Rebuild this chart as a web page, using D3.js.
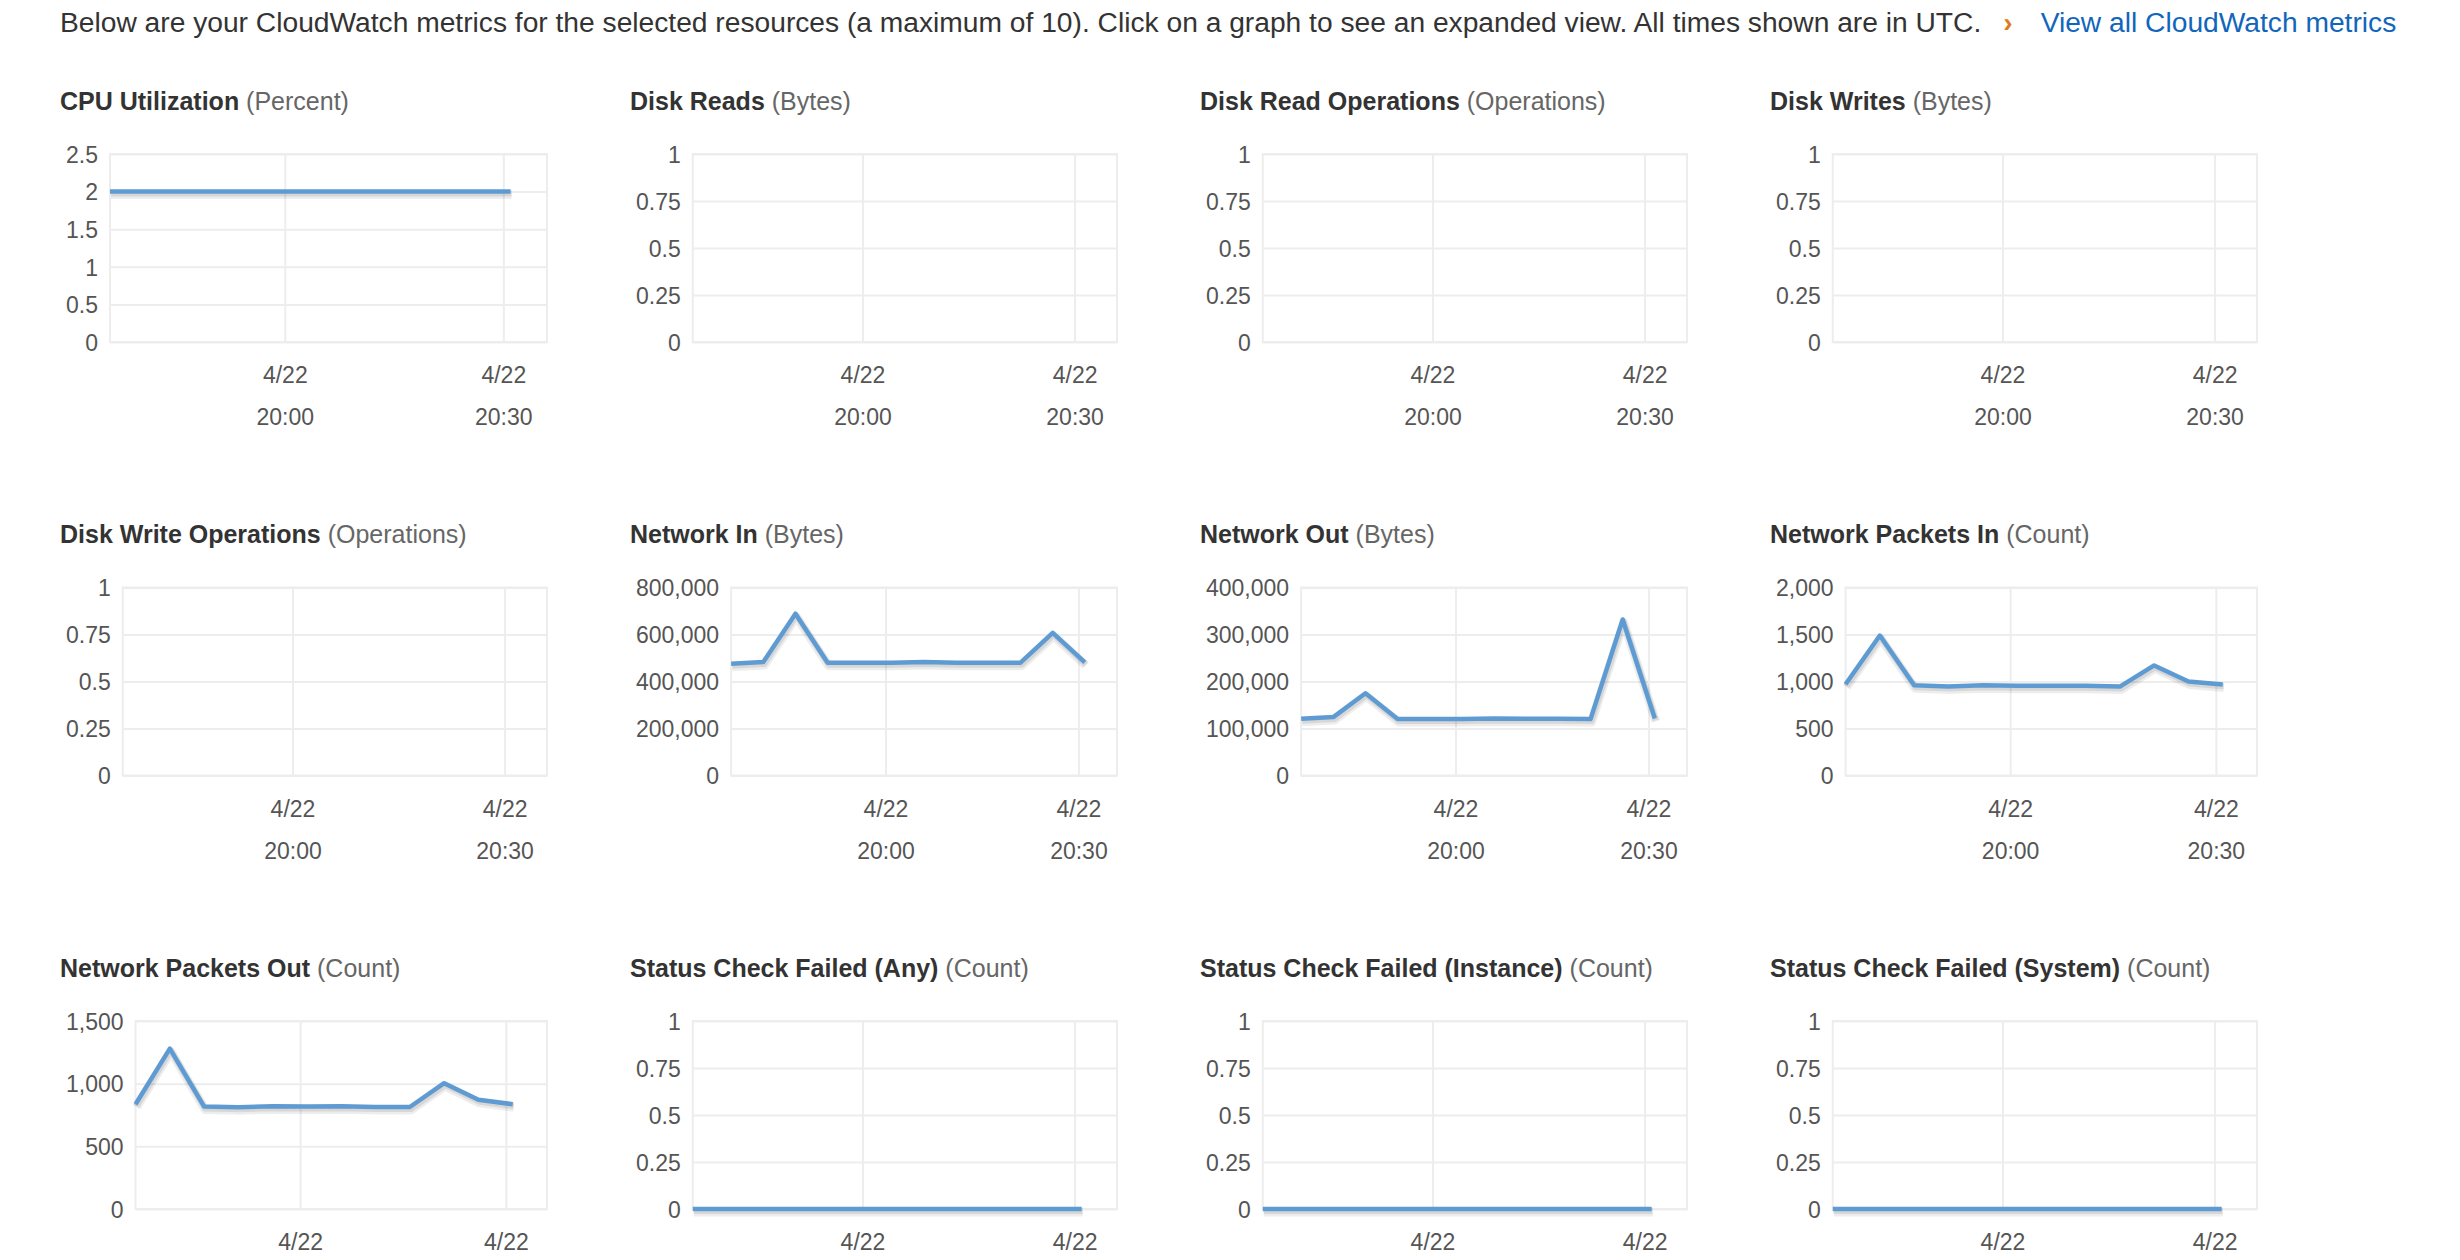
<!DOCTYPE html>
<html>
<head>
<meta charset="utf-8">
<script src="https://cdn.jsdelivr.net/npm/d3@7"></script>
<style>
  html, body { margin: 0; padding: 0; background: #fff; overflow: hidden; }
  svg { display: block; font-family: "Liberation Sans", Arial, Helvetica, sans-serif; }
</style>
</head>
<body>
<svg id="chart" width="2460" height="1260"></svg>
<script>
// sample times (UTC, 4/22), 5 minute period
const sampleTimes = ['19:36', '19:41', '19:46', '19:51', '19:56', '20:01', '20:06', '20:11', '20:16', '20:21', '20:26', '20:31'];
const timeRange = ['19:36', '20:36'];

// series values
const cpuUtilization = [2, 2, 2, 2, 2, 2, 2, 2, 2, 2, 2, 2];
const diskReads = [];
const diskReadOps = [];
const diskWrites = [];
const diskWriteOps = [];
const networkIn = [475700, 482900, 688600, 480000, 480000, 480000, 483000, 480000, 480000, 480000, 607000, 481000];
const networkOut = [120700, 124300, 175000, 120000, 120000, 120000, 121400, 120700, 120700, 120000, 332000, 121400];
const packetsIn = [971, 1489, 961, 946, 961, 954, 954, 954, 946, 1171, 1000, 968];
const packetsOut = [836, 1280, 817, 812, 820, 817, 820, 814, 814, 1004, 871, 836];
const statusAny = [0, 0, 0, 0, 0, 0, 0, 0, 0, 0, 0, 0];
const statusInstance = [0, 0, 0, 0, 0, 0, 0, 0, 0, 0, 0, 0];
const statusSystem = [0, 0, 0, 0, 0, 0, 0, 0, 0, 0, 0, 0];

// y tick labels
const ticksCpu = [0, 0.5, 1, 1.5, 2, 2.5];
const ticksUnit = [0, 0.25, 0.5, 0.75, 1];
const ticksNetIn = [0, 200000, 400000, 600000, 800000];
const ticksNetOut = [0, 100000, 200000, 300000, 400000];
const ticksPktIn = [0, 500, 1000, 1500, 2000];
const ticksPktOut = [0, 500, 1000, 1500];

const metrics = [
  { name: 'CPU Utilization', unit: 'Percent', values: cpuUtilization, ticks: ticksCpu },
  { name: 'Disk Reads', unit: 'Bytes', values: diskReads, ticks: ticksUnit },
  { name: 'Disk Read Operations', unit: 'Operations', values: diskReadOps, ticks: ticksUnit },
  { name: 'Disk Writes', unit: 'Bytes', values: diskWrites, ticks: ticksUnit },
  { name: 'Disk Write Operations', unit: 'Operations', values: diskWriteOps, ticks: ticksUnit },
  { name: 'Network In', unit: 'Bytes', values: networkIn, ticks: ticksNetIn },
  { name: 'Network Out', unit: 'Bytes', values: networkOut, ticks: ticksNetOut },
  { name: 'Network Packets In', unit: 'Count', values: packetsIn, ticks: ticksPktIn },
  { name: 'Network Packets Out', unit: 'Count', values: packetsOut, ticks: ticksPktOut },
  { name: 'Status Check Failed (Any)', unit: 'Count', values: statusAny, ticks: ticksUnit },
  { name: 'Status Check Failed (Instance)', unit: 'Count', values: statusInstance, ticks: ticksUnit },
  { name: 'Status Check Failed (System)', unit: 'Count', values: statusSystem, ticks: ticksUnit }
];

const parseTime = (t) => d3.utcParse('%Y-%m-%d %H:%M')('2019-04-22 ' + t);
const times = sampleTimes.map(parseTime);

const svg = d3.select('#chart');

// header line
const header = svg.append('text')
  .attr('x', 60)
  .attr('y', 32)
  .style('font-size', '28.2px');
header.append('tspan')
  .attr('fill', '#333')
  .text('Below are your CloudWatch metrics for the selected resources (a maximum of 10). Click on a graph to see an expanded view. All times shown are in UTC.');
header.append('tspan')
  .attr('dx', 22)
  .attr('fill', '#e07b1a')
  .style('font-weight', 'bold')
  .text('›');
header.append('tspan')
  .attr('dx', 28)
  .attr('fill', '#1166bb')
  .text('View all CloudWatch metrics');

// grid of small charts
const colStep = 570;
const rowStep = 433.5;
const plotH = 188;
const fontStack = '"Liberation Sans", Arial, Helvetica, sans-serif';

metrics.forEach((m, i) => {
  const col = i % 4;
  const row = Math.floor(i / 4);
  const x0 = 60 + col * colStep;
  const titleY = 101 + row * rowStep;
  const g = svg.append('g');

  // title
  const title = g.append('text')
    .attr('x', x0)
    .attr('y', titleY)
    .attr('dy', '0.35em')
    .style('font-size', '25px');
  title.append('tspan').attr('fill', '#333').style('font-weight', 'bold').text(m.name);
  title.append('tspan').attr('fill', '#666').text(' (' + m.unit + ')');

  // measure y labels to place the plot like the original
  const fmt = d3.format(',');
  const probe = g.append('g').style('font-size', '23px');
  let labelW = 0;
  m.ticks.forEach((t) => {
    const tx = probe.append('text').text(fmt(t));
    labelW = Math.max(labelW, tx.node().getComputedTextLength());
  });
  probe.remove();

  const plotLeft = x0 + 6 + labelW + 12;
  const plotRight = x0 + 487;
  const plotTop = titleY + 53;
  const plotBottom = plotTop + plotH;

  const xScale = d3.scaleUtc()
    .domain(timeRange.map(parseTime))
    .range([plotLeft, plotRight]);
  const yScale = d3.scaleLinear()
    .domain([0, d3.max(m.ticks)])
    .range([plotBottom, plotTop]);
  const xTicks = xScale.ticks(d3.utcMinute.every(30));

  // horizontal grid
  g.append('g')
    .attr('transform', `translate(${plotLeft},0)`)
    .call(d3.axisLeft(yScale).tickValues(m.ticks).tickSize(-(plotRight - plotLeft)).tickFormat(''))
    .call((a) => a.select('.domain').remove())
    .call((a) => a.selectAll('line').attr('stroke', '#ededed').attr('stroke-width', 2));

  // vertical grid
  g.append('g')
    .attr('transform', `translate(0,${plotBottom})`)
    .call(d3.axisBottom(xScale).tickValues(xTicks).tickSize(-plotH).tickFormat(''))
    .call((a) => a.select('.domain').remove())
    .call((a) => a.selectAll('line').attr('stroke', '#ededed').attr('stroke-width', 2));

  // plot border
  g.append('rect')
    .attr('x', plotLeft)
    .attr('y', plotTop)
    .attr('width', plotRight - plotLeft)
    .attr('height', plotH)
    .attr('fill', 'none')
    .attr('stroke', '#ededed')
    .attr('stroke-width', 2);

  // y axis labels
  g.append('g')
    .attr('transform', `translate(${plotLeft},0)`)
    .call(d3.axisLeft(yScale).tickValues(m.ticks).tickSize(0).tickPadding(12).tickFormat(fmt))
    .call((a) => a.select('.domain').remove())
    .call((a) => a.selectAll('text')
      .attr('fill', '#555')
      .attr('dy', '0.36em')
      .style('font-size', '23px')
      .style('font-family', fontStack));

  // x axis labels: date on first line, time on second
  const xAxis = g.append('g')
    .attr('transform', `translate(0,${plotBottom})`)
    .call(d3.axisBottom(xScale).tickValues(xTicks).tickSize(0).tickFormat(''));
  xAxis.select('.domain').remove();
  xAxis.selectAll('.tick').each(function (d) {
    const t = d3.select(this).select('text')
      .attr('y', 0)
      .attr('dy', null)
      .attr('fill', '#555')
      .style('font-size', '23px')
      .style('font-family', fontStack);
    t.append('tspan').attr('x', 0).attr('y', 33).attr('dy', '0.36em').text(d3.utcFormat('%-m/%d')(d));
    t.append('tspan').attr('x', 0).attr('y', 75).attr('dy', '0.36em').text(d3.utcFormat('%H:%M')(d));
  });

  // series line with a soft shadow
  if (m.values.length) {
    const pts = m.values.map((v, k) => ({ t: times[k], v }));
    const line = d3.line().x((d) => xScale(d.t)).y((d) => yScale(d.v));
    g.append('path')
      .datum(pts)
      .attr('d', line)
      .attr('transform', 'translate(1,3)')
      .attr('fill', 'none')
      .attr('stroke', 'rgba(0,0,0,0.07)')
      .attr('stroke-width', 9)
      .attr('stroke-linejoin', 'round');
    g.append('path')
      .datum(pts)
      .attr('d', line)
      .attr('transform', 'translate(1,2)')
      .attr('fill', 'none')
      .attr('stroke', 'rgba(0,0,0,0.09)')
      .attr('stroke-width', 6)
      .attr('stroke-linejoin', 'round');
    g.append('path')
      .datum(pts)
      .attr('d', line)
      .attr('fill', 'none')
      .attr('stroke', '#5f9bd3')
      .attr('stroke-width', 4.5)
      .attr('stroke-linejoin', 'round');
  }
});
</script>
</body>
</html>
